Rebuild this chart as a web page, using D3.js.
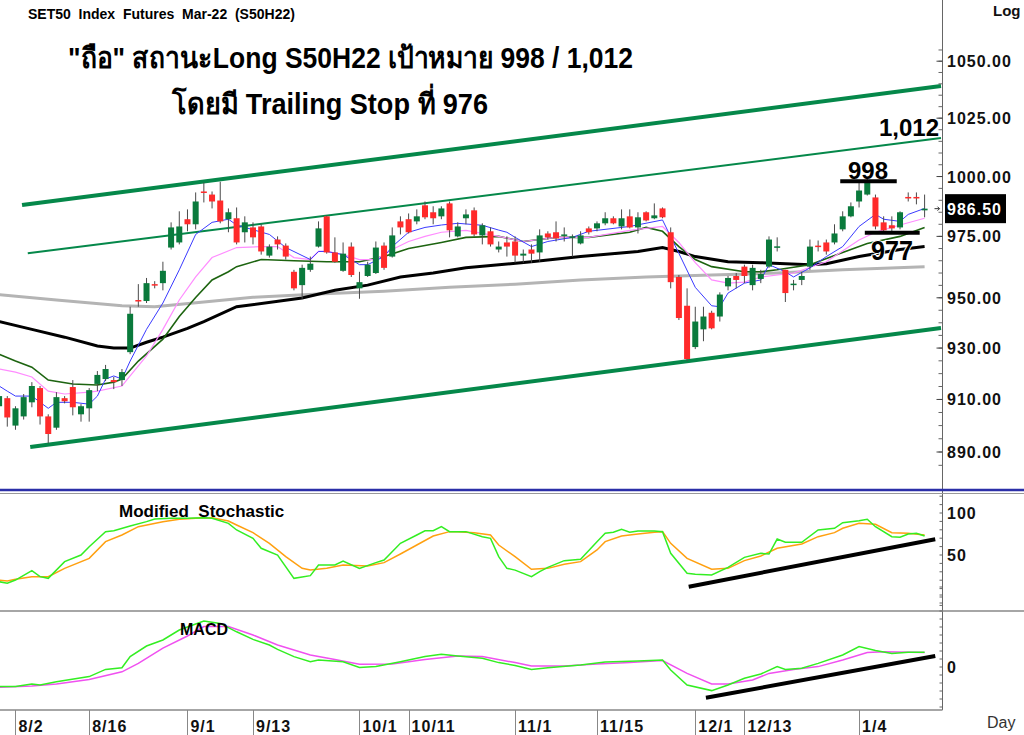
<!DOCTYPE html>
<html lang="th">
<head>
<meta charset="UTF-8">
<title>SET50 Index Futures Mar-22 (S50H22)</title>
<script src="https://d3js.org/d3.v7.min.js"></script>
<style>
    body { margin: 0; padding: 0; background: #fff; }
    svg { display: block; font-family: "Liberation Sans", Arial, sans-serif; }
    .axis-lbl { font-size: 16px; font-weight: bold; fill: #111; letter-spacing: 1px; }
</style>
</head>
<body>
<svg id="chart" width="1024" height="735"></svg>
<script>
// candles, 1 = 30 Jul 2021 ... 114 = last bar
const opens = [
    907.4, 910.5, 900.0, 903.5, 908.9, 914.4, 903.5, 899.2, 910.5, 914.8,
    904.3, 906.6, 916.0, 917.9, 917.5, 917.5, 928.4, 949.1, 948.7, 955.5,
    955.9, 970.4, 972.5, 982.1, 980.0, 993.7, 992.4, 989.9, 982.1, 982.5,
    976.7, 978.7, 979.1, 967.1, 973.7, 971.2, 960.5, 955.1, 961.3, 970.8,
    983.3, 968.4, 960.9, 970.8, 953.8, 958.8, 960.0, 971.2, 966.7, 981.2,
    982.1, 981.2, 987.9, 985.0, 983.3, 988.7, 975.0, 982.5, 985.8, 975.4,
    977.1, 969.6, 972.5, 972.9, 967.1, 969.6, 968.4, 976.2, 976.7, 975.4,
    974.8, 972.1, 978.3, 978.3, 980.4, 982.5, 979.1, 983.3, 978.7, 985.0,
    982.5, 986.6, 976.7, 958.4, 946.8, 930.4, 937.4, 944.0, 942.5, 954.6,
    958.8, 962.6, 955.1, 957.6, 962.6, 970.8, 961.3, 955.3, 957.2, 962.6,
    971.2, 972.5, 972.5, 977.9, 983.3, 989.5, 992.4, 991.2, 980.8, 979.6,
    978.7, 991.4, 991.4, 985.8
];
const highs = [
    912.1, 911.3, 907.4, 912.1, 916.7, 915.2, 904.3, 912.8, 911.3, 917.5,
    908.2, 914.4, 921.0, 923.4, 918.7, 921.8, 946.4, 955.5, 958.0, 956.7,
    964.6, 980.8, 985.4, 986.2, 993.3, 997.4, 993.7, 997.8, 986.6, 987.0,
    983.3, 980.8, 980.0, 971.7, 975.0, 972.1, 961.3, 963.4, 966.7, 981.2,
    983.7, 974.6, 972.5, 972.5, 960.5, 964.6, 972.9, 972.5, 978.7, 983.3,
    984.5, 986.2, 989.5, 987.5, 987.5, 989.5, 980.8, 986.2, 987.0, 980.4,
    978.7, 972.9, 975.0, 975.0, 969.6, 971.7, 977.9, 977.1, 981.2, 978.7,
    975.8, 977.1, 979.1, 981.2, 985.0, 983.3, 986.2, 986.2, 985.0, 985.4,
    988.7, 987.0, 978.7, 959.2, 953.8, 946.4, 946.4, 944.8, 952.2, 958.8,
    960.0, 963.4, 963.4, 961.3, 975.0, 974.6, 961.3, 957.2, 960.5, 973.7,
    973.3, 973.7, 980.0, 985.4, 989.1, 997.4, 999.9, 992.4, 983.3, 983.3,
    985.4, 993.3, 993.3, 992.4
];
const lows = [
    906.2, 899.6, 898.4, 902.3, 907.0, 900.4, 893.3, 898.4, 908.5, 903.9,
    901.5, 901.5, 913.2, 917.1, 914.0, 915.2, 927.6, 946.4, 947.9, 953.8,
    953.0, 969.6, 971.7, 977.1, 977.9, 989.1, 986.6, 980.4, 976.7, 971.7,
    972.5, 971.7, 967.5, 966.3, 969.6, 965.5, 953.0, 949.6, 960.5, 970.4,
    967.9, 964.2, 960.5, 958.4, 949.6, 958.4, 959.6, 961.3, 966.3, 975.8,
    976.2, 980.0, 982.1, 980.0, 982.1, 974.6, 974.6, 980.0, 975.0, 971.7,
    970.8, 968.4, 966.7, 964.2, 964.2, 964.2, 964.6, 973.7, 972.9, 972.9,
    966.7, 971.7, 975.8, 977.1, 979.6, 980.0, 977.9, 978.3, 976.2, 981.2,
    982.1, 982.5, 953.8, 941.1, 924.9, 929.6, 932.7, 937.4, 940.5, 953.0,
    953.8, 955.9, 953.0, 955.9, 962.1, 968.8, 948.3, 953.0, 955.1, 961.3,
    968.8, 967.5, 971.7, 977.1, 982.9, 987.0, 992.0, 977.9, 977.1, 977.1,
    977.9, 989.5, 988.3, 982.9
];
const closes = [
    911.3, 903.1, 906.6, 910.9, 915.2, 903.5, 896.8, 910.9, 909.3, 907.0,
    907.4, 913.6, 919.5, 921.8, 916.7, 920.6, 943.6, 948.7, 955.9, 955.1,
    960.9, 978.7, 979.1, 980.0, 989.5, 993.3, 989.5, 981.2, 985.0, 972.5,
    980.8, 974.6, 968.8, 970.8, 971.7, 966.7, 953.8, 962.1, 963.8, 978.3,
    968.4, 964.6, 967.9, 959.2, 956.3, 963.4, 970.4, 962.1, 975.4, 978.7,
    976.7, 983.3, 982.9, 982.5, 986.6, 977.5, 979.1, 984.1, 975.8, 979.6,
    971.7, 970.8, 970.8, 967.1, 967.9, 967.9, 975.4, 974.6, 974.2, 975.8,
    975.0, 975.4, 976.7, 980.4, 982.5, 980.4, 982.5, 978.7, 982.9, 981.6,
    983.7, 982.9, 956.3, 941.9, 925.7, 940.5, 942.5, 937.8, 951.3, 958.0,
    957.2, 958.8, 962.1, 959.6, 973.7, 970.9, 951.9, 955.7, 958.8, 970.8,
    970.8, 968.8, 976.2, 983.3, 987.5, 994.1, 997.4, 979.1, 977.5, 978.3,
    985.0, 991.0, 991.0, 986.5
];

// moving averages: [bar, value]
const blueMA = [[1,915.2],[2,913.2],[3,911.3],[5,911.3],[7,906.6],[8,908.9],[10,908.9],[12,908.2],[13,911.3],[14,917.9],[15,919.1],[16,917.9],[17,924.9],[19,937.4],[21,947.9],[23,961.3],[25,975.8],[27,980.8],[29,982.1],[30,979.7],[34,975.8],[36,970.4],[39,965.5],[40,968.8],[41,968.8],[43,967.5],[45,963.4],[46,963.4],[48,966.7],[49,970.8],[51,976.7],[53,978.7],[55,979.7],[57,980.4],[60,979.6],[62,977.6],[63,976.7],[64,974.6],[66,970.8],[68,972.9],[71,974.6],[73,977.1],[78,979.1],[82,981.8],[84,968.0],[86,954.2],[88,946.8],[89,946.4],[90,951.9],[92,955.9],[94,957.2],[95,963.4],[97,960.5],[98,958.4],[100,962.1],[102,966.7],[104,970.8],[106,979.1],[108,984.1],[109,982.1],[111,981.2],[112,984.1],[114,986.6]];
const pinkMA = [[1,921.8],[3,920.6],[5,918.7],[7,913.2],[9,912.1],[12,912.8],[13,913.2],[16,915.2],[17,919.1],[19,926.9],[21,937.4],[23,949.1],[25,958.4],[27,966.3],[30,970.4],[33,970.8],[35,970.8],[37,966.3],[39,965.5],[40,968.8],[41,968.8],[43,967.5],[45,965.5],[47,965.5],[49,969.6],[51,972.9],[53,975.0],[55,976.7],[58,977.5],[62,975.0],[65,972.9],[69,974.6],[73,974.6],[78,977.5],[82,979.1],[84,972.5],[86,964.2],[88,957.2],[90,955.9],[92,956.3],[94,958.4],[98,960.0],[102,964.6],[106,973.5],[108,976.7],[111,979.7],[114,982.5]];
const greenMA = [[1,927.6],[3,924.9],[5,922.5],[7,917.5],[10,916.0],[13,915.6],[15,916.7],[16,917.9],[18,924.9],[21,933.5],[23,942.5],[25,950.1],[27,957.2],[29,960.5],[30,962.6],[33,965.5],[37,965.0],[41,964.6],[45,964.6],[48,966.7],[51,970.0],[55,972.5],[58,974.6],[62,975.0],[65,972.9],[69,974.6],[73,974.6],[78,976.7],[80,978.7],[82,977.1],[84,970.8],[86,965.5],[88,962.6],[92,960.5],[94,960.5],[96,961.3],[100,963.4],[104,968.4],[107,972.1],[111,975.0],[114,978.7]];
const blackMA = [[1,940.5],[5,937.4],[9,934.3],[13,930.8],[15,930.0],[17,930.0],[19,932.3],[21,934.3],[24,937.8],[26,940.5],[30,946.4],[38,949.9],[42,953.0],[46,955.1],[50,958.4],[54,960.0],[58,962.1],[66,964.6],[72,966.7],[79,968.8],[82,970.4],[84,968.8],[86,966.7],[90,964.6],[94,964.2],[100,963.4],[102,963.8],[106,966.7],[111,969.6],[114,970.8]];
const grayMA = [[1,951.3],[8,949.1],[16,946.8],[20,946.4],[26,948.3],[32,950.2],[40,951.5],[48,952.6],[56,954.2],[64,955.5],[72,957.2],[80,958.4],[88,959.2],[96,960.0],[104,961.3],[114,962.6]];

// trend channel and target lines: [bar, price]
const channelUpper = [[3.8, 988.0], [116, 1039.0]];
const channelMid = [[4.5, 968.1], [116, 1016.4]];
const channelLower = [[4.8, 891.9], [116, 937.9]];
const target998 = [[103.7, 998], [110.6, 998]];
const stop977 = [[106.7, 976.5], [113.4, 976.5]];

// oscillators: [bar, value]
const stochK = [[1,18.2],[2,16.3],[3,20.2],[5,31.3],[6,24.2],[7,22.2],[9,42.1],[11,50.0],[12,59.9],[14,77.8],[15,78.9],[17,84.5],[19,89.7],[20,92.9],[22,93.7],[24,93.7],[26,94.4],[27,93.7],[29,87.7],[30,79.8],[32,69.8],[33,58.0],[35,50.0],[37,22.2],[39,25.4],[40,38.1],[42,38.1],[43,42.9],[45,34.1],[47,40.9],[48,44.0],[50,63.9],[52,73.8],[53,78.9],[54,78.9],[55,83.7],[56,77.8],[58,77.8],[60,71.8],[61,69.8],[62,48.0],[63,34.1],[64,32.0],[66,24.2],[67,30.2],[68,35.3],[70,43.3],[72,44.8],[74,65.9],[75,75.8],[76,77.0],[77,80.6],[78,77.0],[79,78.6],[81,78.6],[82,77.8],[83,52.0],[85,28.2],[86,27.0],[88,26.2],[90,35.3],[92,47.2],[94,52.0],[95,51.2],[96,69.0],[97,65.1],[99,65.1],[101,79.8],[103,81.8],[104,88.5],[106,90.8],[107,92.5],[108,83.7],[110,71.8],[111,71.1],[112,75.0],[113,75.8],[114,72.6]];
const stochD = [[1,20.2],[2,19.0],[3,21.0],[5,24.2],[7,24.2],[9,34.1],[12,46.0],[14,65.9],[16,73.8],[18,83.7],[21,89.7],[23,92.5],[25,93.7],[27,94.4],[29,90.5],[30,85.7],[32,76.6],[34,63.9],[36,48.0],[38,34.1],[39,32.1],[41,34.1],[43,38.1],[46,36.9],[48,40.9],[50,51.2],[52,61.9],[54,72.6],[56,77.8],[57,77.8],[59,76.6],[61,73.8],[62,61.9],[64,48.0],[66,33.0],[68,34.1],[70,38.9],[72,42.1],[74,56.0],[75,65.9],[77,72.6],[79,75.0],[81,77.0],[82,77.8],[83,63.9],[85,46.0],[88,33.0],[90,34.1],[92,43.3],[94,48.8],[96,58.0],[99,63.1],[101,71.8],[103,76.6],[104,81.8],[106,87.7],[108,86.5],[110,76.6],[112,75.8],[114,73.8]];
const macdLine = [[1,-4.9],[3,-4.9],[5,-4.25],[6,-4.5],[8,-3.7],[12,-2.4],[14,-0.6],[16,-0.2],[17,2.6],[19,5.25],[21,6.75],[23,9.25],[25,10.75],[26,11.5],[28,10.9],[30,8.8],[32,6.9],[34,5.5],[35,4.4],[37,2.6],[39,1.3],[40,1.75],[43,1.3],[45,-0.1],[47,0.1],[50,1.3],[53,2.6],[55,3.2],[57,2.75],[60,2.2],[62,1.1],[64,0.4],[66,-0.6],[68,-0.2],[72,0.5],[75,1.25],[79,1.5],[82,1.75],[83,-0.75],[85,-4.5],[88,-5.9],[90,-4.5],[92,-2.8],[94,-1.75],[96,0.1],[97,-0.6],[99,-0.3],[101,0.9],[104,3.0],[106,5.1],[108,4.1],[110,3.4],[112,3.7],[114,3.7]];
const macdSignal = [[1,-5.1],[5,-4.75],[8,-4.25],[12,-3.1],[16,-1.2],[18,0.9],[21,4.7],[24,7.75],[26,10.1],[29,10.1],[32,8.0],[35,5.5],[39,3.0],[42,1.9],[45,0.7],[49,0.75],[53,1.9],[57,2.75],[60,2.6],[64,1.1],[66,0.25],[70,0.25],[74,0.75],[78,1.1],[82,1.6],[85,-1.6],[88,-4.25],[90,-4.25],[93,-3.25],[95,-1.6],[98,-0.6],[101,0.1],[104,1.75],[107,3.6],[109,3.8],[114,3.6]];
const stochTrend = [[85.2, 12.3], [115.3, 68.7]];
const macdTrend = [[87.3, -7.7], [115.3, 2.75]];

// axis ticks
const dateLabels = ["8/2", "8/16", "9/1", "9/13", "10/1", "10/11", "11/1", "11/15", "12/1", "12/13", "1/4"];
const dateBars = [3, 12, 24, 32, 45, 51, 64, 74, 86, 92, 106];
const priceTicks = [890, 910, 930, 950, 975, 1000, 1025, 1050];
const lastPrice = 986.5;

const svg = d3.select("#chart");
const W = 1024, axisX = 942.5;

const x = d3.scaleLinear().domain([1, 114]).range([-0.9, 924.6]);
const y = d3.scaleLog().domain([890, 1050]).range([452, 61.2]);
const yStoch = d3.scaleLinear().domain([0, 100]).range([597, 513]);
const yMacd = d3.scaleLinear().domain([-10, 10]).range([707, 627]);

svg.append("defs").append("clipPath").attr("id", "clipMain")
    .append("rect").attr("x", 0).attr("y", 0).attr("width", axisX).attr("height", 488);

// panel frames
svg.append("line").attr("x1", axisX).attr("x2", axisX).attr("y1", 0).attr("y2", 710)
    .attr("stroke", "#666").attr("stroke-width", 1);
svg.append("line").attr("x1", 0).attr("x2", W).attr("y1", 490).attr("y2", 490)
    .attr("stroke", "#2b2fa8").attr("stroke-width", 2.5);
svg.append("line").attr("x1", 0).attr("x2", W).attr("y1", 493.5).attr("y2", 493.5)
    .attr("stroke", "#999").attr("stroke-width", 1);
svg.append("line").attr("x1", 0).attr("x2", W).attr("y1", 611).attr("y2", 611)
    .attr("stroke", "#888").attr("stroke-width", 1.5);
svg.append("line").attr("x1", 0).attr("x2", axisX).attr("y1", 710).attr("y2", 710)
    .attr("stroke", "#888").attr("stroke-width", 1.5);

const main = svg.append("g").attr("clip-path", "url(#clipMain)");

const line = d3.line().x(d => x(d[0])).y(d => y(d[1]));

// channel
main.append("path").datum(channelUpper).attr("d", line).attr("fill", "none")
    .attr("stroke", "#05884a").attr("stroke-width", 4);
main.append("path").datum(channelMid).attr("d", line).attr("fill", "none")
    .attr("stroke", "#05884a").attr("stroke-width", 2);
main.append("path").datum(channelLower).attr("d", line).attr("fill", "none")
    .attr("stroke", "#05884a").attr("stroke-width", 4);

// moving averages
main.append("path").datum(grayMA).attr("d", line).attr("fill", "none")
    .attr("stroke", "#b4b4b4").attr("stroke-width", 3);
main.append("path").datum(blackMA).attr("d", line).attr("fill", "none")
    .attr("stroke", "#000").attr("stroke-width", 3);
main.append("path").datum(greenMA).attr("d", line).attr("fill", "none")
    .attr("stroke", "#1d6410").attr("stroke-width", 1.6);
main.append("path").datum(pinkMA).attr("d", line).attr("fill", "none")
    .attr("stroke", "#ff8cff").attr("stroke-width", 1.2);
main.append("path").datum(blueMA).attr("d", line).attr("fill", "none")
    .attr("stroke", "#3a3aff").attr("stroke-width", 1);

// candles
const bars = d3.range(opens.length).map(i => ({
    n: i + 1, o: opens[i], h: highs[i], l: lows[i], c: closes[i]
}));
const candle = main.append("g").selectAll("g").data(bars).enter().append("g");
candle.append("line")
    .attr("x1", d => x(d.n)).attr("x2", d => x(d.n))
    .attr("y1", d => y(d.h)).attr("y2", d => y(d.l))
    .attr("stroke", "#4a4a4a").attr("stroke-width", 1);
candle.append("rect")
    .attr("x", d => x(d.n) - 3).attr("width", 6)
    .attr("y", d => y(Math.max(d.o, d.c)))
    .attr("height", d => Math.max(1.5, Math.abs(y(d.o) - y(d.c))))
    .attr("fill", d => d.c >= d.o ? "#0a7a3c" : "#ff2a2a");

// target / stop lines
main.append("path").datum(target998).attr("d", line).attr("stroke", "#000").attr("stroke-width", 4);
main.append("path").datum(stop977).attr("d", line).attr("stroke", "#000").attr("stroke-width", 4);

svg.append("text").attr("x", 868).attr("y", 179).attr("text-anchor", "middle")
    .attr("font-size", 24).attr("font-weight", "bold").text("998");
svg.append("text").attr("x", 892).attr("y", 260).attr("text-anchor", "middle")
    .attr("font-size", 27).attr("font-weight", "bold")
    .attr("stroke", "#fff").attr("stroke-width", 2).attr("paint-order", "stroke")
    .attr("textLength", 42).attr("lengthAdjust", "spacingAndGlyphs").text("977");
svg.append("text").attr("x", 909).attr("y", 136).attr("text-anchor", "middle")
    .attr("font-size", 24).attr("font-weight", "bold").text("1,012");

// price axis, ticks point left into the plot
const minor = d3.range(885, 1056, 5);
svg.append("g").selectAll("line").data(minor).enter().append("line")
    .attr("x1", axisX - 4).attr("x2", axisX)
    .attr("y1", d => y(d)).attr("y2", d => y(d))
    .attr("stroke", "#666");
svg.append("g").selectAll("line").data(priceTicks).enter().append("line")
    .attr("x1", axisX - 6).attr("x2", axisX)
    .attr("y1", d => y(d)).attr("y2", d => y(d))
    .attr("stroke", "#444");
svg.append("g").selectAll("text").data(priceTicks).enter().append("text")
    .attr("class", "axis-lbl")
    .attr("x", 947).attr("y", d => y(d) + 6)
    .text(d => d3.format(".2f")(d));

svg.append("text").attr("x", 993).attr("y", 16).attr("font-size", 15)
    .attr("font-weight", "bold").attr("fill", "#111").text("Log");

// last price box
svg.append("rect").attr("x", 945).attr("y", y(lastPrice) - 14.5).attr("width", 61).attr("height", 29).attr("fill", "#000");
svg.append("text").attr("class", "axis-lbl").attr("x", 947).attr("y", y(lastPrice) + 6)
    .style("fill", "#fff").text(d3.format(".2f")(lastPrice));
svg.append("path")
    .attr("d", `M${axisX - 8},${y(lastPrice)} h5 m-2,-2 l2,2 l-2,2`)
    .attr("stroke", "#333").attr("fill", "none");

// titles
svg.append("text").attr("x", 28).attr("y", 19).attr("font-size", 14).attr("font-weight", "bold")
    .attr("xml:space", "preserve").text("SET50  Index  Futures  Mar-22  (S50H22)");
svg.append("text").attr("x", 68).attr("y", 68).attr("font-size", 29).attr("font-weight", "bold")
    .attr("font-family", "'Liberation Sans Narrow', 'Arial Narrow', 'Liberation Sans', sans-serif")
    .attr("textLength", 565).attr("lengthAdjust", "spacingAndGlyphs")
    .text("\"ถือ\" สถานะLong S50H22 เป้าหมาย 998 / 1,012");
svg.append("text").attr("x", 172).attr("y", 114).attr("font-size", 29).attr("font-weight", "bold")
    .attr("font-family", "'Liberation Sans Narrow', 'Arial Narrow', 'Liberation Sans', sans-serif")
    .attr("textLength", 316).attr("lengthAdjust", "spacingAndGlyphs")
    .text("โดยมี Trailing Stop ที่ 976");

// stochastic panel
const lineS = d3.line().x(d => x(d[0])).y(d => yStoch(d[1]));
svg.append("path").datum(stochD).attr("d", lineS).attr("fill", "none")
    .attr("stroke", "#ffa010").attr("stroke-width", 1.5);
svg.append("path").datum(stochK).attr("d", lineS).attr("fill", "none")
    .attr("stroke", "#33ee22").attr("stroke-width", 1.5);
svg.append("path").datum(stochTrend).attr("d", lineS).attr("stroke", "#000").attr("stroke-width", 4);
svg.append("text").attr("x", 119).attr("y", 517).attr("font-size", 17).attr("font-weight", "bold")
    .attr("xml:space", "preserve").text("Modified  Stochastic");
svg.append("g").selectAll("line").data(d3.range(-10, 121, 10)).enter().append("line")
    .attr("x1", axisX - 3).attr("x2", axisX)
    .attr("y1", d => yStoch(d)).attr("y2", d => yStoch(d)).attr("stroke", "#666");
svg.append("g").selectAll("text").data([50, 100]).enter().append("text")
    .attr("class", "axis-lbl").attr("x", 947).attr("y", d => yStoch(d) + 6).text(d => d);

// macd panel
const lineM = d3.line().x(d => x(d[0])).y(d => yMacd(d[1]));
svg.append("path").datum(macdSignal).attr("d", lineM).attr("fill", "none")
    .attr("stroke", "#f050f0").attr("stroke-width", 1.5);
svg.append("path").datum(macdLine).attr("d", lineM).attr("fill", "none")
    .attr("stroke", "#33ee22").attr("stroke-width", 1.5);
svg.append("path").datum(macdTrend).attr("d", lineM).attr("stroke", "#000").attr("stroke-width", 4);
svg.append("text").attr("x", 180).attr("y", 635).attr("font-size", 16).attr("font-weight", "bold").text("MACD");
svg.append("g").selectAll("line").data(d3.range(-10, 21, 2)).enter().append("line")
    .attr("x1", axisX - 3).attr("x2", axisX)
    .attr("y1", d => yMacd(d)).attr("y2", d => yMacd(d)).attr("stroke", "#666");
svg.append("text").attr("class", "axis-lbl").attr("x", 947).attr("y", yMacd(0) + 6).text("0");

// date axis
const dates = svg.append("g").selectAll("g").data(dateBars).enter().append("g");
dates.append("line")
    .attr("x1", d => Math.round(x(d)) + 0.5).attr("x2", d => Math.round(x(d)) + 0.5)
    .attr("y1", 710).attr("y2", 735).attr("stroke", "#888");
dates.append("text").attr("class", "axis-lbl")
    .attr("x", d => x(d) + 3).attr("y", 732)
    .text((d, i) => dateLabels[i]);
svg.append("text").attr("x", 987).attr("y", 728).attr("font-size", 16).attr("fill", "#333").text("Day");
</script>
</body>
</html>
